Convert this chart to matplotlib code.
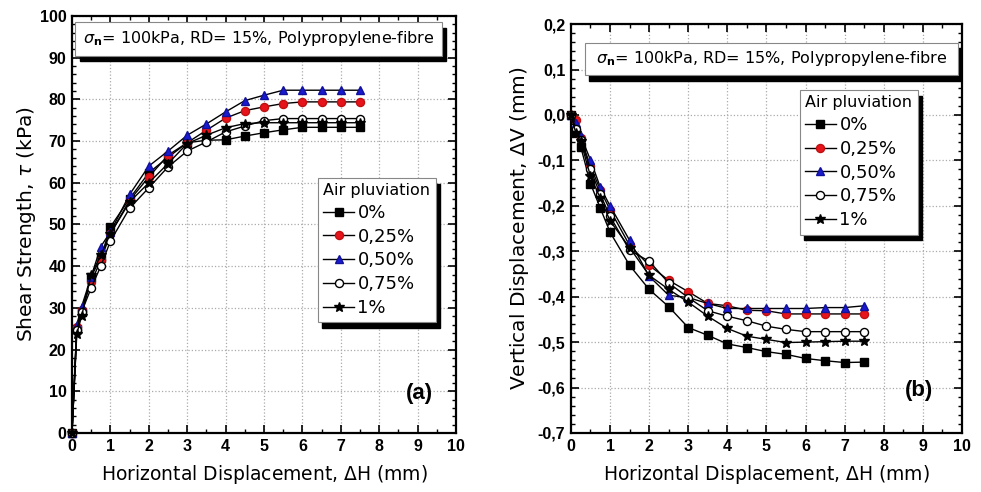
import numpy as np
import matplotlib
matplotlib.use("Agg")
import matplotlib.pyplot as plt
from matplotlib.patches import Rectangle
from matplotlib.ticker import MultipleLocator, FuncFormatter
from matplotlib.font_manager import FontProperties

# horizontal displacement (mm) at which readings were taken
dh = [0, 0.125, 0.25, 0.5, 0.75, 1, 1.5, 2, 2.5, 3, 3.5, 4, 4.5, 5, 5.5, 6, 6.5, 7, 7.5]

labels = ["0%", "0,25%", "0,50%", "0,75%", "1%"]

# shear strength tau (kPa)
tau_0 = [0, 25.0, 29.0, 37.5, 42.0, 49.4, 56.2, 62.4, 66.1, 69.6, 70.2, 70.3, 71.2, 72.0, 72.7, 73.3, 73.3, 73.3, 73.3]
tau_25 = [0, 25.5, 29.5, 36.2, 41.4, 47.8, 55.8, 61.4, 66.6, 69.6, 72.6, 75.5, 77.3, 78.2, 79.0, 79.4, 79.4, 79.4, 79.4]
tau_50 = [0, 26.0, 30.3, 37.5, 44.7, 48.2, 57.2, 64.0, 67.6, 71.4, 74.1, 77.0, 79.7, 81.0, 82.2, 82.2, 82.2, 82.2, 82.2]
tau_75 = [0, 24.7, 29.0, 34.8, 40.0, 46.0, 53.9, 58.8, 63.8, 67.6, 69.8, 72.2, 73.6, 74.9, 75.4, 75.4, 75.4, 75.4, 75.4]
tau_100 = [0, 23.8, 28.0, 38.0, 42.6, 47.8, 55.4, 60.0, 64.6, 69.4, 71.4, 73.2, 74.2, 74.4, 74.4, 74.4, 74.4, 74.4, 74.4]

# vertical displacement dV (mm)
dv_0 = [0, -0.040, -0.070, -0.151, -0.205, -0.258, -0.331, -0.384, -0.422, -0.468, -0.485, -0.504, -0.512, -0.521, -0.527, -0.536, -0.541, -0.545, -0.544]
dv_25 = [0, -0.012, -0.050, -0.113, -0.165, -0.209, -0.287, -0.331, -0.364, -0.389, -0.415, -0.420, -0.430, -0.431, -0.438, -0.438, -0.438, -0.438, -0.438]
dv_50 = [0, -0.018, -0.046, -0.099, -0.159, -0.200, -0.276, -0.355, -0.397, -0.402, -0.415, -0.426, -0.426, -0.426, -0.426, -0.426, -0.424, -0.424, -0.420]
dv_75 = [0, -0.030, -0.055, -0.120, -0.175, -0.223, -0.298, -0.322, -0.370, -0.402, -0.431, -0.443, -0.453, -0.465, -0.472, -0.477, -0.477, -0.477, -0.477]
dv_100 = [0, -0.040, -0.058, -0.135, -0.183, -0.233, -0.292, -0.353, -0.384, -0.412, -0.443, -0.470, -0.487, -0.494, -0.501, -0.500, -0.499, -0.498, -0.498]

styles = [
    dict(marker="s", mfc="black", mec="black"),
    dict(marker="o", mfc="#e8141c", mec="#c01010"),
    dict(marker="^", mfc="#1a1ad0", mec="#10109a"),
    dict(marker="o", mfc="white", mec="black"),
    dict(marker="*", mfc="black", mec="black", ms=7.5),
]

tick_font = dict(family="Liberation Sans", weight="bold", size=11.5)
label_font = dict(family="DejaVu Sans", size=13.5)


def comma(v, pos):
    s = f"{v:.1f}".replace(".", ",")
    return "0,0" if s == "-0,0" else s


def shadow_box(ax, x0, y0, x1, y1, off=(0.012, 0.014)):
    ax.add_patch(Rectangle((x0 + off[0], y0 - off[1]), x1 - x0, y1 - y0,
                           transform=ax.transAxes, fc="black", ec="black", zorder=5))
    ax.add_patch(Rectangle((x0, y0), x1 - x0, y1 - y0, transform=ax.transAxes,
                           fc="white", ec="#888888", lw=0.8, zorder=6))


def setup(ax, series, ylim, ymaj, ymin, fmt=None):
    for y, lab, st in zip(series, labels, styles):
        kw = dict(ms=5.8)
        kw.update(st)
        ax.plot(dh, y, color="black", lw=1.0, label=lab, zorder=3, clip_on=False, **kw)
    ax.set_xlim(0, 10)
    ax.set_ylim(*ylim)
    ax.xaxis.set_major_locator(MultipleLocator(1))
    ax.xaxis.set_minor_locator(MultipleLocator(0.5))
    ax.yaxis.set_major_locator(MultipleLocator(ymaj))
    ax.yaxis.set_minor_locator(MultipleLocator(ymin))
    if fmt:
        ax.yaxis.set_major_formatter(FuncFormatter(fmt))
    ax.tick_params(which="both", direction="in", top=True, right=True)
    ax.tick_params(which="major", length=6, width=1.2, pad=4)
    ax.tick_params(which="minor", length=3, width=1.0)
    for t in ax.get_xticklabels() + ax.get_yticklabels():
        t.set_fontproperties(FontProperties(**tick_font))
    for s in ax.spines.values():
        s.set_linewidth(1.6)
    ax.grid(True, which="major", color="#aaaaaa", ls=":", lw=0.9)
    ax.set_axisbelow(True)
    ax.set_xlabel("Horizontal Displacement, $\\Delta$H (mm)", labelpad=7, **label_font)


fig = plt.figure(figsize=(9.81, 4.92), dpi=100)
ax1 = fig.add_axes([0.0734, 0.12, 0.3914, 0.8475])
ax2 = fig.add_axes([0.582, 0.12, 0.3986, 0.831])

setup(ax1, [tau_0, tau_25, tau_50, tau_75, tau_100], (0, 100), 10, 2)
ax1.set_ylabel("Shear Strength, $\\tau$ (kPa)", labelpad=1, family="DejaVu Sans", size=14.5)
setup(ax2, [dv_0, dv_25, dv_50, dv_75, dv_100], (-0.7, 0.2), 0.1, 0.02, comma)
ax2.set_ylabel("Vertical Displacement, $\\Delta$V (mm)", labelpad=5, family="DejaVu Sans", size=14.5)

info = "$\\sigma_{\\mathbf{n}}$= 100kPa, RD= 15%, Polypropylene-fibre"
for ax, box in [(ax1, (0.008, 0.905, 0.963, 0.985)), (ax2, (0.035, 0.875, 0.99, 0.955))]:
    shadow_box(ax, *box)
    ax.text((box[0] + box[2]) / 2, (box[1] + box[3]) / 2, info, transform=ax.transAxes,
            ha="center", va="center", zorder=7, family="DejaVu Sans", size=11.5)

for ax, loc in [(ax1, (0.64, 0.265)), (ax2, (0.585, 0.485))]:
    leg = ax.legend(loc="lower left", bbox_to_anchor=loc, title="Air pluviation",
                    frameon=True, fancybox=False, framealpha=1, edgecolor="#888888",
                    prop=dict(family="DejaVu Sans", size=13), handlelength=1.7,
                    handletextpad=0.2, borderpad=0.3, labelspacing=0.32,
                    borderaxespad=0)
    leg.get_title().set_fontproperties(FontProperties(family="DejaVu Sans", size=11.5))
    leg._legend_box.align = "left"
    leg.get_frame().set_linewidth(0.8)
    leg.set_zorder(8)

fig.canvas.draw()
for ax in (ax1, ax2):
    leg = ax.get_legend()
    bb = leg.get_window_extent().transformed(ax.transAxes.inverted())
    ax.add_patch(Rectangle((bb.x0 + 0.012, bb.y0 - 0.014), bb.width, bb.height,
                           transform=ax.transAxes, fc="black", ec="black", zorder=7.5))

ax1.text(0.905, 0.095, "(a)", transform=ax1.transAxes, ha="center", va="center",
         family="Liberation Sans", weight="bold", size=16)
ax2.text(0.89, 0.105, "(b)", transform=ax2.transAxes, ha="center", va="center",
         family="Liberation Sans", weight="bold", size=16)

fig.savefig("out.png", dpi=100)
